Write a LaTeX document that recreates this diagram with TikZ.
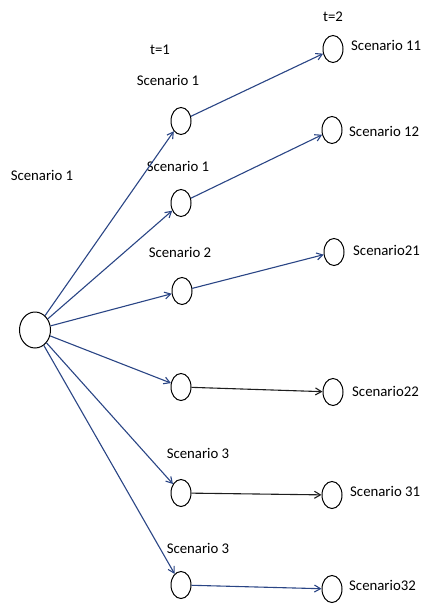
\documentclass[tikz,border=0pt]{standalone}
\usepackage{fontspec}
\setmainfont{Carlito}
\usetikzlibrary{shapes.geometric,arrows.meta}
\definecolor{edgeblue}{HTML}{2A4585}
\definecolor{edgegray}{HTML}{1E1E1E}
\begin{document}
\begin{tikzpicture}[x=1pt,y=-1pt,
  state/.style={draw=black,line width=1pt,ellipse,inner sep=0pt,minimum width=20pt,minimum height=27pt},
  rootstate/.style={state,minimum width=31pt,minimum height=36pt},
  lbl/.style={font=\fontsize{14.8}{16}\selectfont,inner sep=0pt},
  rlbl/.style={lbl,anchor=west},
  arr/.style={draw=edgeblue,line width=1.1pt,-{Straight Barb[length=6pt,width=7pt]}},
  arrk/.style={arr,draw=edgegray}]
\useasboundingbox (0,0) rectangle (428,605);
% root of the tree
\node[rootstate] (r) at (35,330) {};
% stage t=1
\node[state] (a) at (181,121) {};
\node[state] (b) at (181,203) {};
\node[state] (c) at (182,291) {};
\node[state] (d) at (181,387) {};
\node[state] (e) at (181,493) {};
\node[state] (f) at (181,585) {};
% stage t=2
\node[state] (n11) at (333,49) {};
\node[state] (n12) at (332,130) {};
\node[state] (n21) at (334,252) {};
\node[state] (n22) at (333,392) {};
\node[state] (n31) at (332,495) {};
\node[state] (n32) at (332,589) {};
% stage headings
\node[lbl] (t1) at (160,50) {t=1};
\node[lbl] (t2) at (333,17) {t=2};
% scenario labels
\node[lbl] (lr) at (42,175) {Scenario 1};
\node[lbl] (la) at (168,80) {Scenario 1};
\node[lbl] (lb) at (178,166) {Scenario 1};
\node[lbl] (lc) at (180,252) {Scenario 2};
\node[lbl] (le) at (198,453) {Scenario 3};
\node[lbl] (lf) at (198,548) {Scenario 3};
\node[rlbl] (l11) at (351,45) {Scenario 11};
\node[rlbl] (l12) at (349,131) {Scenario 12};
\node[rlbl] (l21) at (353,250) {Scenario21};
\node[rlbl] (l22) at (352,391) {Scenario22};
\node[rlbl] (l31) at (350,491) {Scenario 31};
\node[rlbl] (l32) at (349,585) {Scenario32};
% branches from the root
\draw[arr] (r) -- (a);
\draw[arr] (r) -- (b);
\draw[arr] (r) -- (c);
\draw[arr] (r) -- (d);
\draw[arr] (r) -- (e);
\draw[arr] (r) -- (f);
% branches to t=2
\draw[arr] (a) -- (n11);
\draw[arr] (b) -- (n12);
\draw[arr] (c) -- (n21);
\draw[arrk] (d) -- (n22);
\draw[arrk] (e) -- (n31);
\draw[arr] (f) -- (n32);
\end{tikzpicture}
\end{document}
